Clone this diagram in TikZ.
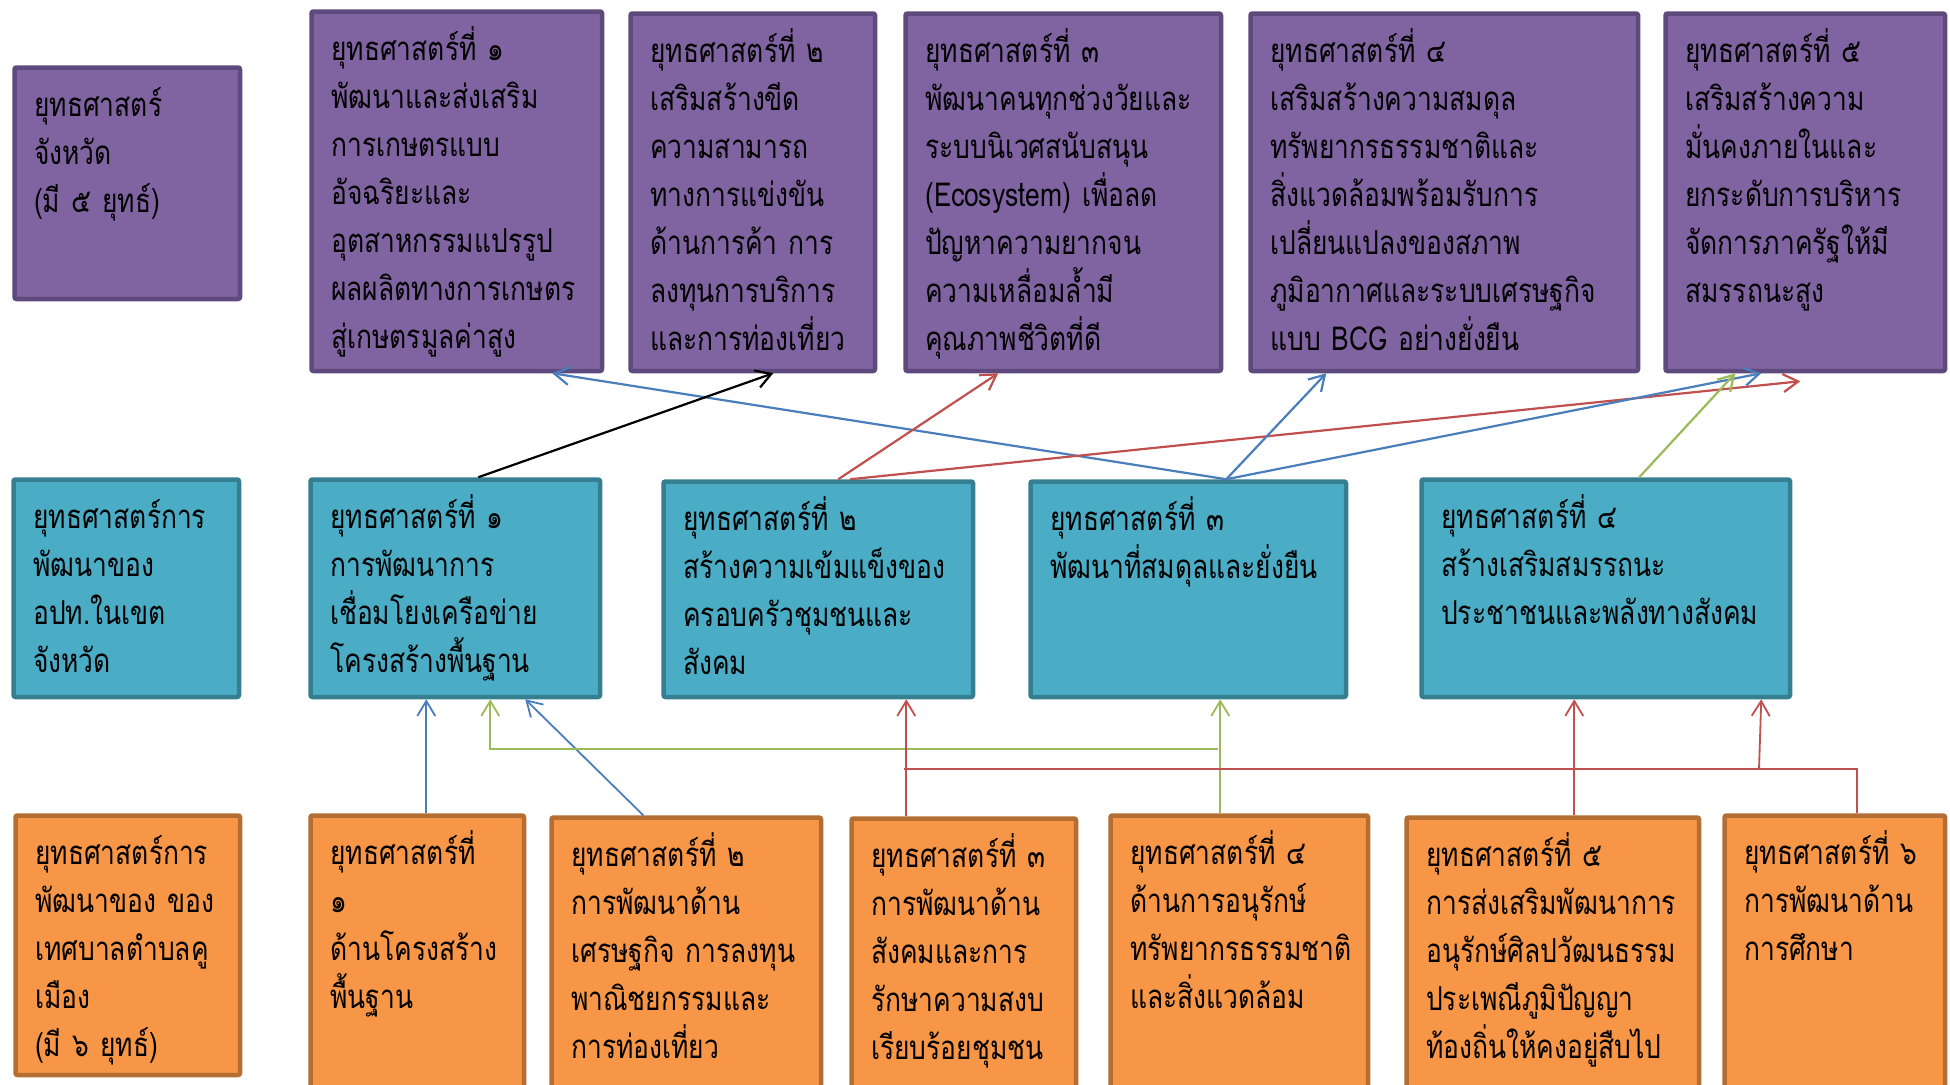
\documentclass[tikz,border=0pt]{standalone}
\usepackage{fontspec}
\newfontfamily\thaifont[Script=Thai,FakeStretch=0.8]{Loma}
\usetikzlibrary{arrows.meta}
\definecolor{pfill}{HTML}{8064A2}
\definecolor{pdraw}{HTML}{5E4A7C}
\definecolor{tfill}{HTML}{4BACC6}
\definecolor{tdraw}{HTML}{357F91}
\definecolor{ofill}{HTML}{F79646}
\definecolor{odraw}{HTML}{B46D33}
\definecolor{lblue}{HTML}{4A7EBB}
\definecolor{lred}{HTML}{C0504D}
\definecolor{lgreen}{HTML}{9BBB59}
\tikzset{
  box/.style={rectangle, line width=4.5pt, rounded corners=2pt, inner sep=0pt, anchor=north west},
  pbox/.style={box, fill=pfill, draw=pdraw},
  tbox/.style={box, fill=tfill, draw=tdraw},
  obox/.style={box, fill=ofill, draw=odraw},
  txt/.style={anchor=base west, inner sep=0pt, text width=420pt, align=left, text=black,
    font=\thaifont\fontsize{33}{48}\selectfont},
  conn/.style={line width=2.2pt, -{Straight Barb[length=15pt,width=18pt,line width=2.2pt]}},
  connb/.style={line width=1.8pt, -{Straight Barb[length=15pt,width=18pt,line width=1.8pt]}},
  plain/.style={line width=1.8pt},
}
\newcommand\mkbox[7]{%
  \node[#2, minimum width={#5-#3-4.5}, minimum height={#6-#4-4.5}] (#1) at ({#3+2.25},{#4+2.25}) {};
  \node[txt] (#1t) at ({#3+24},{#4+53}) {#7};
}
\begin{document}
\begin{tikzpicture}[x=1pt,y=-1pt]
\useasboundingbox (0,0) rectangle (1950,1084);
\clip (0,0) rectangle (1950,1084);
% top row
\mkbox{P0}{pbox}{10}{63}{240}{299}{ยุทธศาสตร์\\จังหวัด\\(มี ๕ ยุทธ์)}
\mkbox{P1}{pbox}{307}{7}{602}{371}{ยุทธศาสตร์ที่ ๑\\พัฒนาและส่งเสริม\\การเกษตรแบบ\\อัจฉริยะและ\\อุตสาหกรรมแปรรูป\\ผลผลิตทางการเกษตร\\สู่เกษตรมูลค่าสูง}
\mkbox{P2}{pbox}{626}{9}{875}{371}{ยุทธศาสตร์ที่ ๒\\เสริมสร้างขีด\\ความสามารถ\\ทางการแข่งขัน\\ด้านการค้า การ\\ลงทุนการบริการ\\และการท่องเที่ยว}
\mkbox{P3}{pbox}{901}{9}{1221}{371}{ยุทธศาสตร์ที่ ๓\\พัฒนาคนทุกช่วงวัยและ\\ระบบนิเวศสนับสนุน\\(Ecosystem) เพื่อลด\\ปัญหาความยากจน\\ความเหลื่อมล้ำมี\\คุณภาพชีวิตที่ดี}
\mkbox{P4}{pbox}{1246}{9}{1638}{371}{ยุทธศาสตร์ที่ ๔\\เสริมสร้างความสมดุล\\ทรัพยากรธรรมชาติและ\\สิ่งแวดล้อมพร้อมรับการ\\เปลี่ยนแปลงของสภาพ\\ภูมิอากาศและระบบเศรษฐกิจ\\แบบ BCG อย่างยั่งยืน}
\mkbox{P5}{pbox}{1661}{9}{1945}{371}{ยุทธศาสตร์ที่ ๕\\เสริมสร้างความ\\มั่นคงภายในและ\\ยกระดับการบริหาร\\จัดการภาครัฐให้มี\\สมรรถนะสูง}
% middle row
\mkbox{T0}{tbox}{9}{475}{239}{697}{ยุทธศาสตร์การ\\พัฒนาของ\\อปท.ในเขต\\จังหวัด}
\mkbox{T1}{tbox}{306}{475}{600}{697}{ยุทธศาสตร์ที่ ๑\\การพัฒนาการ\\เชื่อมโยงเครือข่าย\\โครงสร้างพื้นฐาน}
\mkbox{T2}{tbox}{659}{477}{973}{697}{ยุทธศาสตร์ที่ ๒\\สร้างความเข้มแข็งของ\\ครอบครัวชุมชนและ\\สังคม}
\mkbox{T3}{tbox}{1026}{477}{1346}{697}{ยุทธศาสตร์ที่ ๓\\พัฒนาที่สมดุลและยั่งยืน}
\mkbox{T4}{tbox}{1417}{475}{1790}{697}{ยุทธศาสตร์ที่ ๔\\สร้างเสริมสมรรถนะ\\ประชาชนและพลังทางสังคม}
% bottom row
\mkbox{O0}{obox}{11}{811}{240}{1075}{ยุทธศาสตร์การ\\พัฒนาของ ของ\\เทศบาลตำบลคู\\เมือง\\(มี ๖ ยุทธ์)}
\mkbox{O1}{obox}{306}{811}{524}{1110}{ยุทธศาสตร์ที่\\๑\\ด้านโครงสร้าง\\พื้นฐาน}
\mkbox{O2}{obox}{547}{813}{821}{1110}{ยุทธศาสตร์ที่ ๒\\การพัฒนาด้าน\\เศรษฐกิจ การลงทุน\\พาณิชยกรรมและ\\การท่องเที่ยว}
\mkbox{O3}{obox}{847}{814}{1076}{1110}{ยุทธศาสตร์ที่ ๓\\การพัฒนาด้าน\\สังคมและการ\\รักษาความสงบ\\เรียบร้อยชุมชน}
\mkbox{O4}{obox}{1106}{811}{1368}{1110}{ยุทธศาสตร์ที่ ๔\\ด้านการอนุรักษ์\\ทรัพยากรธรรมชาติ\\และสิ่งแวดล้อม}
\mkbox{O5}{obox}{1402}{813}{1699}{1110}{ยุทธศาสตร์ที่ ๕\\การส่งเสริมพัฒนาการ\\อนุรักษ์ศิลปวัฒนธรรม\\ประเพณีภูมิปัญญา\\ท้องถิ่นให้คงอยู่สืบไป}
\mkbox{O6}{obox}{1720}{811}{1945}{1110}{ยุทธศาสตร์ที่ ๖\\การพัฒนาด้าน\\การศึกษา}
% upper connectors
\draw[conn, lblue] ([xshift=198pt]T3.north west) -- ([xshift=243pt]P1.south west);
\draw[conn, black] ([xshift=170pt]T1.north west) -- ([xshift=145pt]P2.south west);
\draw[conn, lred] ([xshift=177pt]T2.north west) -- ([xshift=95pt]P3.south west);
\draw[conn, lred] ([xshift=189pt]T2.north west) -- ([xshift=137pt,yshift=-8pt]P5.south west);
\draw[conn, lblue] ([xshift=198pt]T3.north west) -- ([xshift=78pt]P4.south west);
\draw[conn, lblue] ([xshift=198pt]T3.north west) -- ([xshift=98pt]P5.south west);
\draw[conn, lgreen] ([xshift=220pt]T4.north west) -- ([xshift=72pt]P5.south west);
% lower connectors
\draw[connb, lblue] ([xshift=118pt]O1.north west) -- ([xshift=118pt]T1.south west);
\draw[connb, lblue] ([xshift=94pt]O2.north west) -- ([xshift=217pt]T1.south west);
\coordinate (gj) at (1218,749);
\draw[connb, lgreen] ([xshift=112pt]O4.north west) -- ([xshift=192pt]T3.south west);
\draw[connb, lgreen] (gj) -| ([xshift=182pt]T1.south west);
\coordinate (rj) at (904,769);
\coordinate (rk) at (1759,769);
\draw[connb, lred] ([xshift=57pt]O3.north west) -- ([xshift=245pt]T2.south west);
\draw[plain, lred] ([xshift=135pt]O6.north west) |- (rj);
\draw[connb, lred] ([xshift=170pt]O5.north west) -- ([xshift=155pt]T4.south west);
\draw[connb, lred] (rk) -- ([xshift=342pt]T4.south west);
\end{tikzpicture}
\end{document}
